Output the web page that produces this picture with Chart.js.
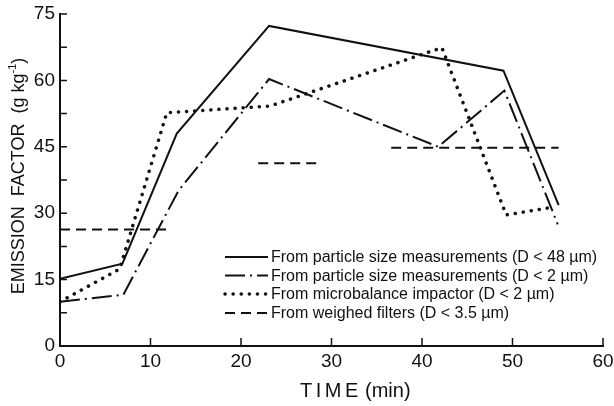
<!DOCTYPE html>
<html>
<head>
<meta charset="utf-8">
<script src="https://cdn.jsdelivr.net/npm/chart.js@4"></script>
<style>
  body { margin: 0; background: #fff; }
</style>
</head>
<body>
<canvas id="myChart" width="614" height="406"></canvas>
<script>
// values (time in min, emission factor in g/kg)
const seriesNames = [
    'From particle size measurements (D < 48 \u00b5m)',
    'From particle size measurements (D < 2 \u00b5m)',
    'From microbalance impactor (D < 2 \u00b5m)',
    'From weighed filters (D < 3.5 \u00b5m)'
];

const size48Time = [0, 6.9, 12.9, 23.1, 49.0, 55.1];
const size48Value = [15.2, 18.6, 48.0, 72.3, 62.2, 31.8];

const size2Time = [0, 7.0, 13.1, 23.1, 41.8, 49.1, 55.0];
const size2Value = [10.0, 11.6, 35.1, 60.3, 45.0, 57.7, 27.5];

const impactorTime = [0, 6.6, 11.8, 23.2, 42.2, 49.3, 54.3];
const impactorValue = [10.0, 17.4, 52.7, 54.2, 67.4, 29.6, 31.3];

// weighed filters: three separate averaging periods (null = gap)
const filterTime = [0, 12.0, 17, 21.9, 28.9, 33, 36.6, 55.1];
const filterValue = [26.3, 26.3, null, 41.3, 41.3, null, 44.8, 44.8];

const xTicksMax = 60;
const yTicksMax = 75;

function toPoints(xs, ys){
    let pts = [];
    for(let i = 0; i < xs.length; i++){
        pts.push({x: xs[i], y: ys[i]});
    }
    return pts;
}

const FONT = "'Liberation Sans', Arial, sans-serif";
const INK = '#111';

// tick marks point inwards and the legend sits inside the plot, so draw those by hand
const extrasPlugin = {
    id: 'extras',
    afterDraw(chart){
        const ctx = chart.ctx;
        const xs = chart.scales.x;
        const ys = chart.scales.y;
        const area = chart.chartArea;

        ctx.save();
        ctx.strokeStyle = INK;
        ctx.lineWidth = 1.5;
        ctx.setLineDash([]);
        ctx.beginPath();
        xs.ticks.forEach(t => {
            if(t.value === 0) return;
            const px = xs.getPixelForValue(t.value);
            ctx.moveTo(px, area.bottom);
            ctx.lineTo(px, area.bottom - 8);
        });
        ys.ticks.forEach(t => {
            if(t.value === 0) return;
            const py = ys.getPixelForValue(t.value);
            ctx.moveTo(area.left, py);
            ctx.lineTo(area.left + 7, py);
        });
        ctx.stroke();

        // legend
        const rowY = [257, 275.5, 294, 313];
        const sx0 = 225, sx1 = 268;
        chart.data.datasets.forEach((ds, i) => {
            const y = rowY[i];
            ctx.save();
            ctx.strokeStyle = ds.borderColor;
            ctx.lineWidth = ds.borderWidth;
            ctx.lineCap = ds.borderCapStyle || 'butt';
            ctx.setLineDash(ds.borderDash || []);
            ctx.beginPath();
            ctx.moveTo(sx0, y);
            ctx.lineTo(sx1, y);
            ctx.stroke();
            ctx.restore();
            ctx.fillStyle = INK;
            ctx.font = '16px ' + FONT;
            ctx.textBaseline = 'middle';
            ctx.textAlign = 'left';
            ctx.fillText(ds.label, 271, y + 1);
        });

        // x title, letter-spaced like the original
        ctx.fillStyle = INK;
        ctx.textBaseline = 'alphabetic';
        ctx.textAlign = 'left';
        ctx.font = '20px ' + FONT;
        ctx.letterSpacing = '3.5px';
        ctx.fillText('TIME', 300, 397);
        ctx.letterSpacing = '0px';
        ctx.fillText('(min)', 365, 397);

        // y title, rotated
        ctx.translate(19, 176);
        ctx.rotate(-Math.PI / 2);
        const main = 'EMISSION  FACTOR  (g kg';
        ctx.font = '18px ' + FONT;
        const w1 = ctx.measureText(main).width;
        const w3 = ctx.measureText(')').width;
        ctx.font = '11px ' + FONT;
        const w2 = ctx.measureText('-1').width;
        const total = w1 + w2 + w3;
        let x = -total / 2;
        ctx.textBaseline = 'middle';
        ctx.font = '18px ' + FONT;
        ctx.fillText(main, x, 0);
        x += w1;
        ctx.font = '11px ' + FONT;
        ctx.fillText('-1', x, -6);
        x += w2;
        ctx.font = '18px ' + FONT;
        ctx.fillText(')', x, 0);
        ctx.restore();
    }
};

const ctx = document.getElementById('myChart').getContext('2d');
const myChart = new Chart(ctx, {
    type: 'line',
    data: {
        datasets: [{
            label: seriesNames[0],
            data: toPoints(size48Time, size48Value),
            borderColor: INK,
            borderWidth: 2,
            borderDash: []
        }, {
            label: seriesNames[1],
            data: toPoints(size2Time, size2Value),
            borderColor: INK,
            borderWidth: 2,
            borderDash: [20, 5, 2, 5]
        }, {
            label: seriesNames[2],
            data: toPoints(impactorTime, impactorValue),
            borderColor: INK,
            borderWidth: 3.5,
            borderCapStyle: 'round',
            borderDash: [0.1, 8]
        }, {
            label: seriesNames[3],
            data: toPoints(filterTime, filterValue),
            borderColor: INK,
            borderWidth: 2,
            borderDash: [10, 6],
            spanGaps: false
        }]
    },
    options: {
        responsive: false,
        animation: false,
        devicePixelRatio: 1,
        layout: {
            padding: {top: 14, right: 11, left: 0, bottom: 0}
        },
        elements: {
            point: {radius: 0, hoverRadius: 0},
            line: {tension: 0, fill: false}
        },
        plugins: {
            legend: {display: false},
            tooltip: {enabled: false}
        },
        scales: {
            x: {
                type: 'linear',
                min: 0,
                max: xTicksMax,
                grid: {display: false, drawTicks: false},
                border: {display: true, color: INK, width: 2},
                ticks: {
                    stepSize: 10,
                    color: INK,
                    padding: 4,
                    maxRotation: 0,
                    font: {family: FONT, size: 19}
                },
                afterFit: function(scale){
                    scale.height = 60;
                    scale.paddingLeft = 0;
                    scale.paddingRight = 0;
                }
            },
            y: {
                min: 0,
                max: yTicksMax,
                grid: {display: false, drawTicks: false},
                border: {display: true, color: INK, width: 2},
                ticks: {
                    stepSize: 7.5,
                    color: INK,
                    padding: 5,
                    font: {family: FONT, size: 19},
                    callback: function(v){ return v % 15 === 0 ? v : ''; }
                },
                afterFit: function(scale){
                    scale.width = 60;
                    scale.paddingTop = 0;
                    scale.paddingBottom = 0;
                }
            }
        }
    },
    plugins: [extrasPlugin]
});
</script>
</body>
</html>
